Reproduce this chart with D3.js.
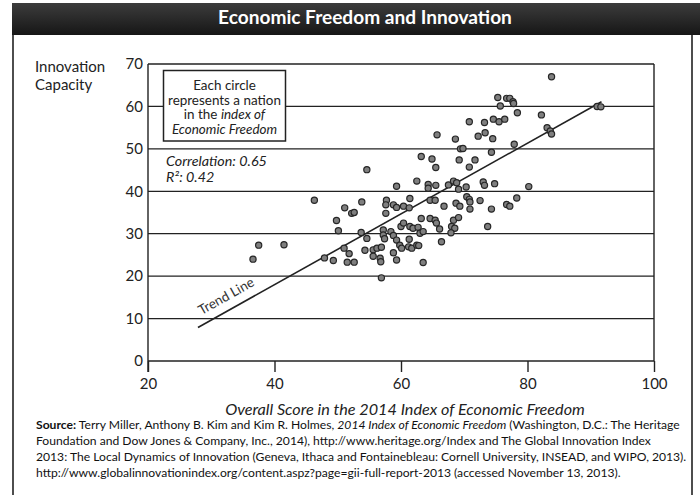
<!DOCTYPE html>
<html>
<head>
<meta charset="utf-8">
<script src="https://cdn.jsdelivr.net/npm/d3@7"></script>
<style>
  body { margin: 0; background: #fff; }
  svg { display: block; font-family: Lato, "Open Sans", sans-serif; }
</style>
</head>
<body>
<div id="chart"></div>
<script>
// overall score in the 2014 Index of Economic Freedom, one entry per nation
var freedomScore = [
  36.6, 37.5, 41.5, 46.3, 47.9, 49.3, 49.8, 50.1, 51.1, 51.0, 51.8, 51.5, 52.6, 52.2, 52.6,
  53.8, 53.7, 54.6, 54.6, 54.3, 55.6, 56.2, 56.9, 55.6, 56.7, 56.8, 56.9, 58.8, 59.3, 63.5,
  57.2, 57.2, 57.4, 58.4, 58.8, 59.3, 59.8, 60.1, 60.0, 60.4, 61.3, 61.2, 61.7, 62.5, 62.8,
  61.4, 61.9, 62.7, 63.2, 63.0, 63.5, 64.6, 65.4, 65.6, 66.1, 66.4, 68.0, 68.5, 67.9, 68.3,
  69.1, 73.7, 57.7, 57.6, 57.6, 58.8, 59.3, 60.4, 61.3, 61.4, 64.6, 65.4, 66.8, 68.7, 69.3,
  70.4, 70.8, 70.9, 70.9, 72.5, 74.3, 76.7, 77.2, 78.3, 80.2, 59.3, 62.5, 64.3, 64.3, 65.5,
  67.5, 68.3, 68.8, 69.1, 70.3, 73.0, 73.2, 74.8, 63.2, 64.9, 65.5, 69.2, 71.7, 70.8, 69.4,
  69.8, 74.3, 65.7, 68.6, 72.2, 73.3, 74.5, 77.9, 70.8, 73.2, 74.6, 75.5, 76.4, 78.4, 75.3,
  76.7, 77.2, 77.7, 77.8, 75.7, 82.2, 83.1, 83.6, 83.8, 83.8, 91.0, 91.6
];
// innovation capacity (Global Innovation Index 2013), same order
var innovationCapacity = [
  24.0, 27.3, 27.4, 37.9, 24.3, 23.7, 33.1, 30.7, 36.1, 26.6, 25.3, 23.3, 23.3, 34.8, 35.0,
  37.5, 30.3, 28.9, 45.1, 26.1, 26.2, 26.6, 26.8, 24.7, 24.2, 23.4, 19.6, 25.5, 23.8, 23.2,
  30.9, 29.7, 28.8, 30.5, 29.6, 28.5, 27.3, 26.6, 31.7, 32.5, 28.7, 26.9, 26.6, 27.3, 27.2,
  31.7, 31.3, 31.5, 33.6, 30.1, 30.5, 33.6, 33.2, 32.5, 31.1, 28.1, 31.7, 31.3, 30.2, 33.2,
  33.8, 31.7, 37.9, 36.8, 34.8, 36.8, 36.2, 36.5, 36.1, 38.3, 37.9, 37.9, 36.5, 37.2, 36.5,
  38.7, 38.1, 37.5, 35.8, 37.8, 35.8, 36.9, 36.5, 38.4, 41.1, 41.2, 42.4, 41.6, 40.7, 41.4,
  41.5, 42.4, 42.0, 40.5, 41.0, 42.2, 41.4, 41.8, 48.2, 47.6, 45.6, 47.4, 47.4, 45.7, 50.0,
  50.1, 49.2, 53.3, 52.3, 53.0, 53.8, 52.4, 51.1, 56.4, 56.2, 57.0, 56.4, 57.0, 58.5, 62.1,
  61.9, 61.9, 61.1, 60.7, 60.1, 58.0, 55.0, 54.2, 53.5, 67.0, 60.0, 59.9
];

var trendScore = [27.9, 91.7];
var trendCapacity = [7.9, 61.1];

var xTicks = [20, 40, 60, 80, 100];
var yTicks = [0, 10, 20, 30, 40, 50, 60, 70];

var titleText = "Economic Freedom and Innovation";
var yTitleLines = ["Innovation", "Capacity"];
var xTitleText = "Overall Score in the 2014 Index of Economic Freedom";
var statLines = ["Correlation: 0.65", "R\u00b2: 0.42"];
var trendLabel = "Trend Line";

// legend lines: [text, italic?] pieces
var legendLines = [
  [["Each circle", false]],
  [["represents a nation", false]],
  [["in the ", false], ["index of", true]],
  [["Economic Freedom", true]]
];

// source note: [text, style] pieces
var sourceLines = [
  [["Source:", "b"], [" Terry Miller, Anthony B. Kim and Kim R. Holmes, ", ""], ["2014 Index of Economic Freedom", "i"], [" (Washington, D.C.: The Heritage", ""]],
  [["Foundation and Dow Jones & Company, Inc., 2014), http://www.heritage.org/Index and The Global Innovation Index", ""]],
  [["2013: The Local Dynamics of Innovation (Geneva, Ithaca and Fontainebleau: Cornell University, INSEAD, and WIPO, 2013).", ""]],
  [["http://www.globalinnovationindex.org/content.aspz?page=gii-full-report-2013 (accessed November 13, 2013).", ""]]
];

var width = 700, height = 495;
var plot = { left: 148, right: 654, top: 64, bottom: 361 };
var ink = "#222";

var svg = d3.select("#chart").append("svg")
  .attr("width", width)
  .attr("height", height);

// scale font so a text element spans the wanted width
function fitText(sel, target) {
  var fs = parseFloat(sel.attr("font-size"));
  var w = sel.node().getComputedTextLength();
  var nfs = fs * target / w;
  sel.attr("font-size", nfs);
  return nfs;
}

// frame + title bar
var grad = svg.append("defs").append("linearGradient")
  .attr("id", "bar").attr("x1", 0).attr("y1", 0).attr("x2", 0).attr("y2", 1);
grad.append("stop").attr("offset", 0).attr("stop-color", "#3c3c3c");
grad.append("stop").attr("offset", 1).attr("stop-color", "#161616");

svg.append("rect")
  .attr("x", 13).attr("y", 34).attr("width", 679).attr("height", 470)
  .attr("fill", "#fff").attr("stroke", ink).attr("stroke-width", 1.6);

svg.append("rect")
  .attr("x", 12).attr("y", 3).attr("width", 688).attr("height", 32)
  .attr("fill", "url(#bar)");

var title = svg.append("text")
  .attr("x", 365).attr("y", 24)
  .attr("text-anchor", "middle")
  .attr("font-size", 17).attr("font-weight", "bold")
  .attr("fill", "#fff")
  .text(titleText);
fitText(title, 294);

// scales
var x = d3.scaleLinear().domain([20, 100]).range([plot.left, plot.right]);
var y = d3.scaleLinear().domain([0, 70]).range([plot.bottom, plot.top]);

// horizontal grid
svg.append("g")
  .selectAll("line")
  .data(yTicks)
  .enter().append("line")
  .attr("x1", plot.left).attr("x2", plot.right)
  .attr("y1", function (d) { return y(d); })
  .attr("y2", function (d) { return y(d); })
  .attr("stroke", ink).attr("stroke-width", 1.3);

// side borders
svg.append("line")
  .attr("x1", plot.left).attr("x2", plot.left)
  .attr("y1", plot.top).attr("y2", plot.bottom + 11)
  .attr("stroke", ink).attr("stroke-width", 1.4);
svg.append("line")
  .attr("x1", plot.right).attr("x2", plot.right)
  .attr("y1", plot.top).attr("y2", plot.bottom)
  .attr("stroke", ink).attr("stroke-width", 1.4);

// x axis
var xAxis = svg.append("g")
  .attr("transform", "translate(0," + plot.bottom + ")")
  .call(d3.axisBottom(x).tickValues(xTicks).tickSize(11).tickPadding(6).tickFormat(d3.format("d")));
xAxis.select(".domain").remove();
xAxis.selectAll(".tick line").attr("stroke", ink).attr("stroke-width", 1.4);
xAxis.selectAll(".tick text")
  .attr("font-family", "Lato, 'Open Sans', sans-serif")
  .attr("font-size", 15).attr("fill", ink);

// y axis labels
var yAxis = svg.append("g")
  .attr("transform", "translate(" + plot.left + ",0)")
  .call(d3.axisLeft(y).tickValues(yTicks).tickSize(0).tickPadding(5).tickFormat(d3.format("d")));
yAxis.select(".domain").remove();
yAxis.selectAll(".tick text")
  .attr("font-family", "Lato, 'Open Sans', sans-serif")
  .attr("font-size", 15).attr("fill", ink);

// y title, two separate lines
var yTitleBase = [72, 90];
var yTitles = yTitleLines.map(function (s, i) {
  return svg.append("text")
    .attr("x", 35).attr("y", yTitleBase[i])
    .attr("font-size", 15).attr("fill", ink)
    .text(s);
});
var yfs = Math.min(15, fitText(yTitles[0], 74));
yTitles.forEach(function (t) { t.attr("font-size", yfs); });

// x title
var xt = svg.append("text")
  .attr("x", 405).attr("y", 415)
  .attr("text-anchor", "middle")
  .attr("font-size", 15).attr("font-style", "italic").attr("fill", ink)
  .text(xTitleText);
fitText(xt, 360);

// trend line
var line = d3.line()
  .x(function (d) { return x(d[0]); })
  .y(function (d) { return y(d[1]); });
svg.append("path")
  .datum(d3.zip(trendScore, trendCapacity))
  .attr("d", line)
  .attr("fill", "none")
  .attr("stroke", ink).attr("stroke-width", 1.6);

// trend label, rotated along the line
var x0 = x(trendScore[0]), y0 = y(trendCapacity[0]);
var x1 = x(trendScore[1]), y1 = y(trendCapacity[1]);
var ang = Math.atan2(y1 - y0, x1 - x0);
var along = 9, off = 9;
var lx = x0 + along * Math.cos(ang) + off * Math.sin(ang);
var ly = y0 + along * Math.sin(ang) - off * Math.cos(ang);
svg.append("text")
  .attr("transform", "translate(" + lx + "," + ly + ") rotate(" + (ang * 180 / Math.PI) + ")")
  .attr("font-size", 13.5).attr("fill", "#333")
  .text(trendLabel);

// dots
svg.append("g")
  .selectAll("circle")
  .data(d3.zip(freedomScore, innovationCapacity))
  .enter().append("circle")
  .attr("cx", function (d) { return x(d[0]); })
  .attr("cy", function (d) { return y(d[1]); })
  .attr("r", 3.1)
  .attr("fill", "#7f7f7f")
  .attr("stroke", "#262626")
  .attr("stroke-width", 1.2);

// legend box
svg.append("rect")
  .attr("x", 163.5).attr("y", 70.5).attr("width", 122).attr("height", 70.5)
  .attr("fill", "#fff").attr("stroke", ink).attr("stroke-width", 1.5);

var legendBase = [89.5, 104.5, 119, 134];
var lg = svg.append("g");
var legendTexts = [];
legendLines.forEach(function (parts, i) {
  var t = lg.append("text")
    .attr("x", 224.5).attr("y", legendBase[i])
    .attr("text-anchor", "middle")
    .attr("font-size", 12.5).attr("fill", ink);
  parts.forEach(function (p) {
    t.append("tspan").attr("font-style", p[1] ? "italic" : null).text(p[0]);
  });
  legendTexts.push(t);
});
var lfs = fitText(legendTexts[1], 113);
legendTexts.forEach(function (t) { t.attr("font-size", lfs); });

// correlation stats
var statBase = [166, 182];
var stats = statLines.map(function (s, i) {
  return svg.append("text")
    .attr("x", 166).attr("y", statBase[i])
    .attr("font-size", 14).attr("font-style", "italic").attr("fill", ink)
    .text(s);
});
var stfs = fitText(stats[0], 101);
stats[1].attr("font-size", stfs);

// source note
var sourceBase = [429, 445, 461, 477];
var srcTexts = sourceLines.map(function (parts, i) {
  var t = svg.append("text")
    .attr("x", 36).attr("y", sourceBase[i])
    .attr("font-size", 11).attr("fill", "#111");
  parts.forEach(function (p) {
    t.append("tspan")
      .attr("font-weight", p[1] === "b" ? "bold" : null)
      .attr("font-style", p[1] === "i" ? "italic" : null)
      .text(p[0]);
  });
  return t;
});
var sfs = fitText(srcTexts[0], 645);
srcTexts.forEach(function (t) { t.attr("font-size", sfs); });
</script>
</body>
</html>
